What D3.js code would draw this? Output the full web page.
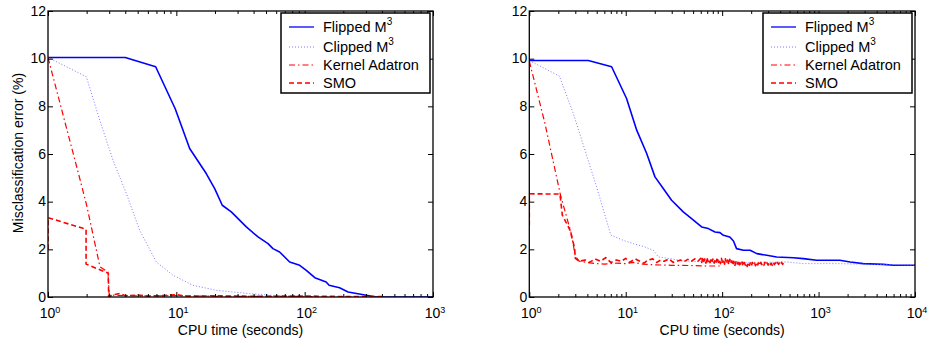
<!DOCTYPE html>
<html>
<head>
<meta charset="utf-8">
<script src="https://cdn.jsdelivr.net/npm/d3@7"></script>
<style>
  body { margin: 0; background: #fff; }
  svg { display: block; font-family: "Liberation Sans", Arial, Helvetica, sans-serif; }
</style>
</head>
<body>
<svg width="928" height="339"></svg>
<script>
const width = 928;
const height = 339;

const seriesNames = ['Flipped M', 'Clipped M', 'Kernel Adatron', 'SMO'];
const yTicks = [0, 2, 4, 6, 8, 10, 12];
const leftDecades = [0, 1, 2, 3];
const rightDecades = [0, 1, 2, 3, 4];

// left panel
const leftFlipped = [[1, 10.05], [4, 10.05], [6.9, 9.66], [9.8, 7.9], [12.7, 6.23], [17.1, 5.18], [19.9, 4.55],
  [22.8, 3.85], [26.8, 3.57], [35.1, 2.94], [43.3, 2.52], [51.8, 2.24], [56.6, 2.03], [63.8, 1.89], [76.4, 1.47],
  [91.4, 1.33], [103, 1.12], [120, 0.81], [147, 0.63], [155, 0.49], [187, 0.39], [218, 0.21], [302, 0.07],
  [363, 0], [1000, 0]];
const leftClipped = [[1, 10.05], [1.99, 9.24], [2.53, 7.42], [3.21, 5.74], [4.08, 4.34], [5.18, 2.8], [6.98, 1.47],
  [9.42, 0.91], [13.5, 0.49], [20.5, 0.28], [37.4, 0.14], [67.9, 0.04], [150, 0], [1000, 0]];
const leftKernel = [[1, 10.05], [1.78, 4.91], [2.0, 3.85], [2.54, 1.27], [2.93, 1.05], [3.0, 0.08], [4, 0.06],
  [6, 0.04], [10, 0.06], [20, 0.03], [50, 0.03], [120, 0.02]];
const leftSmo = [[1, 2.0], [1, 3.33], [1.98, 2.84], [1.98, 1.38], [2.95, 1.0], [2.97, 0.02], [3.3, 0.1],
  [3.65, 0.15], [4, 0.05], [5, 0.08], [6, 0.04], [8, 0.06], [10, 0.1], [12, 0.03], [20, 0.05], [40, 0.03],
  [100, 0.04], [200, 0.02], [430, 0.02]];

// right panel
const rightFlipped = [[1, 9.92], [4.09, 9.92], [7.14, 9.66], [10.2, 8.33], [13, 7.0], [16.5, 6.02], [20.1, 5.04],
  [24.5, 4.55], [29.9, 4.06], [39.5, 3.57], [48.2, 3.29], [61.3, 2.94], [71.9, 2.87], [84.3, 2.73], [95, 2.7],
  [103, 2.59], [120, 2.52], [131, 2.35], [141, 2.03], [166, 1.96], [195, 1.96], [229, 1.82], [290, 1.75],
  [367, 1.68], [549, 1.65], [694, 1.61], [955, 1.54], [1660, 1.54], [2130, 1.47], [2900, 1.4], [4680, 1.37],
  [5990, 1.33], [10000, 1.33]];
const rightClipped = [[1, 9.92], [2.05, 9.27], [2.86, 7.7], [3.78, 6.16], [4.99, 4.62], [7.0, 2.6], [9.4, 2.38],
  [12, 2.24], [15.8, 2.1], [19.3, 1.96], [21.8, 1.68], [28.8, 1.61], [39.7, 1.51], [60, 1.48], [100, 1.45],
  [200, 1.45], [467, 1.47], [694, 1.4], [1500, 1.4], [3000, 1.38], [10000, 1.33]];
const rightKernel = [[1, 9.9], [1.45, 7.3], [2.1, 4.3], [2.75, 2.6], [3.0, 1.7], [3.3, 1.5], [4, 1.45], [5, 1.4],
  [6, 1.38], [8, 1.42], [10, 1.4], [12, 1.45], [15, 1.38], [20, 1.35], [30, 1.33], [50, 1.32], [70, 1.3], [100, 1.3]];
const rightSmo = [[1, 3.0], [1, 4.33], [2.08, 4.32], [2.2, 3.44], [2.64, 2.81], [2.95, 2.06], [3.0, 1.62],
  [3.3, 1.5], [3.8, 1.55], [4.2, 1.45], [4.8, 1.6], [5.5, 1.5], [6.2, 1.65], [7, 1.45], [8, 1.55], [9, 1.5],
  [10, 1.62], [11, 1.45], [12.5, 1.6], [14, 1.5], [15.5, 1.42], [17, 1.55], [19, 1.6], [21, 1.45], [23, 1.55],
  [25, 1.5], [28, 1.6], [31, 1.45], [34, 1.5], [37, 1.55], [40, 1.48], [44, 1.58], [48, 1.5], [52, 1.6],
  [56, 1.5], [60, 1.62], [61.5, 1.45], [63, 1.68], [64.6, 1.5], [66.2, 1.6], [67.9, 1.42], [69.6, 1.66],
  [71.3, 1.48], [73.1, 1.58], [74.9, 1.44], [76.8, 1.64], [78.7, 1.5], [80.7, 1.62], [82.7, 1.42], [84.8, 1.6],
  [86.9, 1.47], [89, 1.66], [91.3, 1.45], [93.5, 1.58], [95.9, 1.4], [98.3, 1.62], [100.7, 1.46], [103, 1.57],
  [106, 1.38], [108, 1.6], [111, 1.42], [114, 1.55], [117, 1.36], [120, 1.58], [123, 1.4], [126, 1.52],
  [129, 1.33], [132, 1.5], [135, 1.3], [139, 1.48], [142, 1.35], [146, 1.46], [150, 1.28], [153, 1.44],
  [157, 1.32], [161, 1.47], [165, 1.3], [169, 1.45], [174, 1.34], [178, 1.42], [182, 1.28], [187, 1.46],
  [192, 1.33], [196, 1.43], [201, 1.3], [206, 1.45], [212, 1.34], [217, 1.42], [222, 1.31], [228, 1.46],
  [234, 1.35], [240, 1.43], [246, 1.32], [252, 1.45], [258, 1.36], [265, 1.42], [271, 1.33], [278, 1.46],
  [285, 1.35], [292, 1.43], [300, 1.34], [307, 1.45], [315, 1.36], [323, 1.42], [331, 1.33], [339, 1.45],
  [348, 1.36], [356, 1.43], [365, 1.34], [374, 1.45], [384, 1.37], [393, 1.42], [403, 1.35], [413, 1.45],
  [424, 1.37], [434, 1.43], [445, 1.4]];

const styles = [
  { color: '#0000ff', width: 1.6, dash: null },
  { color: '#7a7aff', width: 1, dash: '1,2' },
  { color: '#ff0000', width: 1.2, dash: '6,3,1.5,3' },
  { color: '#ff0000', width: 1.6, dash: '5,3' },
];

const svg = d3.select('svg');

const plotTop = 11;
const plotBottom = 297;

function drawPanel(x0, x1, decades, series, legendX) {
  const xMax = Math.pow(10, decades[decades.length - 1]);
  const x = d3.scaleLog().domain([1, xMax]).range([x0, x1]);
  const y = d3.scaleLinear().domain([0, 12]).range([plotBottom, plotTop]);

  const g = svg.append('g');

  const clipId = 'clip' + Math.round(x0);
  g.append('clipPath').attr('id', clipId)
    .append('rect').attr('x', x0).attr('y', plotTop).attr('width', x1 - x0).attr('height', plotBottom - plotTop);

  const line = d3.line().x(d => x(d[0])).y(d => y(d[1]));

  g.append('g').attr('clip-path', `url(#${clipId})`)
    .selectAll('path')
    .data(series)
    .enter()
    .append('path')
    .attr('d', line)
    .attr('fill', 'none')
    .attr('stroke', (d, i) => styles[i].color)
    .attr('stroke-width', (d, i) => styles[i].width)
    .attr('stroke-dasharray', (d, i) => styles[i].dash)
    .attr('stroke-linejoin', 'round');

  const majors = decades.map(p => Math.pow(10, p));
  const minors = [];
  decades.slice(0, -1).forEach(p => {
    for (let k = 2; k <= 9; k++) minors.push(k * Math.pow(10, p));
  });

  const tickStyle = sel => {
    sel.select('.domain').remove();
    sel.selectAll('text').remove();
    sel.selectAll('line').attr('stroke', '#000').attr('stroke-width', 1);
  };

  g.append('g').attr('transform', `translate(0,${plotBottom})`)
    .call(d3.axisBottom(x).tickValues(majors).tickSize(-5)).call(tickStyle);
  g.append('g').attr('transform', `translate(0,${plotBottom})`)
    .call(d3.axisBottom(x).tickValues(minors).tickSize(-3)).call(tickStyle);
  g.append('g').attr('transform', `translate(0,${plotTop})`)
    .call(d3.axisTop(x).tickValues(majors).tickSize(-5)).call(tickStyle);
  g.append('g').attr('transform', `translate(0,${plotTop})`)
    .call(d3.axisTop(x).tickValues(minors).tickSize(-3)).call(tickStyle);
  g.append('g').attr('transform', `translate(${x0},0)`)
    .call(d3.axisLeft(y).tickValues(yTicks).tickSize(-5)).call(tickStyle);
  g.append('g').attr('transform', `translate(${x1},0)`)
    .call(d3.axisRight(y).tickValues(yTicks).tickSize(-5)).call(tickStyle);

  g.append('rect')
    .attr('x', x0).attr('y', plotTop)
    .attr('width', x1 - x0).attr('height', plotBottom - plotTop)
    .attr('fill', 'none').attr('stroke', '#000').attr('stroke-width', 1.3);

  // y tick labels
  g.selectAll('.ylab')
    .data(yTicks)
    .enter()
    .append('text')
    .attr('x', x0 - 2)
    .attr('y', d => y(d) + 4.5)
    .attr('text-anchor', 'end')
    .attr('font-size', 14)
    .text(d => d);

  // x tick labels 10^p
  const xl = g.selectAll('.xlab')
    .data(decades)
    .enter()
    .append('text')
    .attr('x', d => x(Math.pow(10, d)) + 2)
    .attr('y', plotBottom + 21)
    .attr('text-anchor', 'middle')
    .attr('font-size', 14);
  xl.append('tspan').text('10');
  xl.append('tspan').attr('dy', -5).attr('font-size', 9).text(d => d);

  g.append('text')
    .attr('x', (x0 + x1) / 2)
    .attr('y', 334.5)
    .attr('text-anchor', 'middle')
    .attr('font-size', 14)
    .text('CPU time (seconds)');

  // legend
  const lg = g.append('g').attr('transform', `translate(${legendX},13)`);
  lg.append('rect')
    .attr('width', 149).attr('height', 80)
    .attr('fill', '#fff').attr('stroke', '#000').attr('stroke-width', 1.5);
  const rows = [14, 34, 52, 70];
  seriesNames.forEach((name, i) => {
    lg.append('line')
      .attr('x1', 8).attr('x2', 33)
      .attr('y1', rows[i]).attr('y2', rows[i])
      .attr('stroke', styles[i].color)
      .attr('stroke-width', Math.min(styles[i].width, 1.3))
      .attr('stroke-dasharray', styles[i].dash);
    const t = lg.append('text')
      .attr('x', 42).attr('y', rows[i] + 5)
      .attr('font-size', 14.5);
    t.append('tspan').text(name);
    if (i < 2) t.append('tspan').attr('dy', -7).attr('font-size', 10).text('3');
  });
}

drawPanel(48, 433, leftDecades, [leftFlipped, leftClipped, leftKernel, leftSmo], 281);
drawPanel(529.3, 915, rightDecades, [rightFlipped, rightClipped, rightKernel, rightSmo], 763);

svg.append('text')
  .attr('transform', 'translate(23,153) rotate(-90)')
  .attr('text-anchor', 'middle')
  .attr('font-size', 14)
  .text('Misclassification error (%)');
</script>
</body>
</html>
